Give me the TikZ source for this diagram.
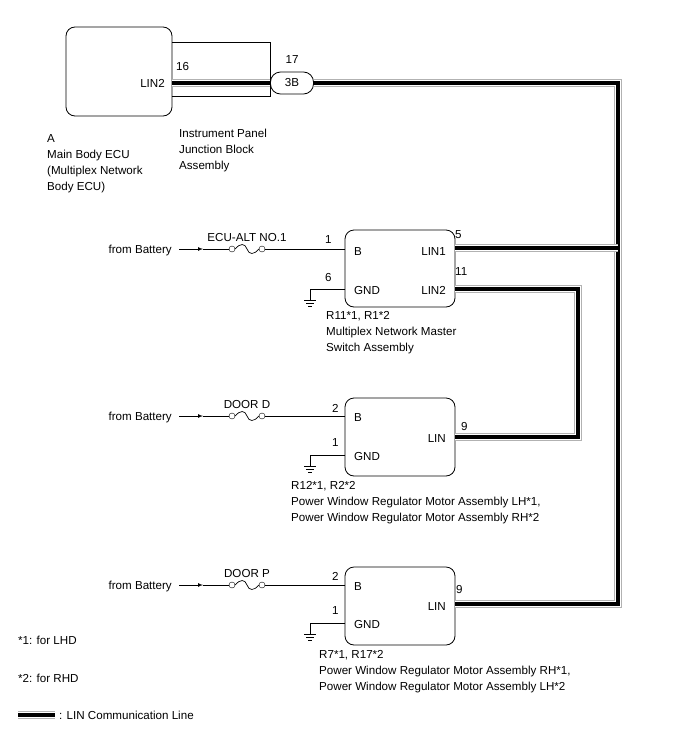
\documentclass[tikz,border=0pt]{standalone}
\usepackage{fontspec}
\setmainfont{Liberation Sans}
\begin{document}
\begin{tikzpicture}[x=1pt,y=-1pt,
  font=\fontsize{11.6}{16}\selectfont,
  box/.style={draw,thick,rounded corners=9pt},
  t/.style={inner sep=0pt,anchor=base west},
  tr/.style={inner sep=0pt,anchor=base east},
  wire/.style={line width=0.7pt},
  lin/.style={preaction={draw,line width=8pt,gray!60},preaction={draw,line width=6pt,white},line width=4.5pt,black},
  fc/.style={circle,draw,inner sep=0pt,minimum size=6pt,fill=white}]
\useasboundingbox (0,0) rectangle (688,755);
% main ECU and JB
\draw[box] (66,27) rectangle (172,116);
\node[tr] (lin2a) at (165,87) {LIN2};
\node[t] (n16) at (176,70) {16};
\draw[thick] (172,42) -- (270,42) -- (270,96) -- (172,96);
\node[align=left,anchor=north west,inner sep=0pt] (ipjb) at (179,129) {Instrument Panel\\Junction Block\\Assembly};
\node[t] (A) at (47,142) {A};
\node[anchor=north west,inner sep=0pt,align=left] (ecu) at (47,150) {Main Body ECU\\(Multiplex Network\\Body ECU)};
\node[draw,thick,rounded corners=10pt,minimum width=43pt,minimum height=22pt,inner sep=0pt] (j3b) at (292,83) {3B};
\node[t,anchor=base] (n17) at (292,63) {17};
\coordinate (p16) at (172,83);
\coordinate (c1) at (618,83);
\coordinate (c2) at (618,248);
\coordinate (c3) at (618,604);
\coordinate (d1) at (578,289);
\coordinate (d2) at (578,437);
% boxes
\draw[box] (345,230) rectangle (455,307);
\draw[box] (345,398) rectangle (455,476);
\draw[box] (345,567) rectangle (455,645);
% box1 texts
\node[t] (b1B) at (354,255) {B};
\node[t] (b1G) at (354,294) {GND};
\node[tr] (b1L1) at (446,255) {LIN1};
\node[tr] (b1L2) at (446,294) {LIN2};
\node[t] (n1a) at (325,243) {1};
\node[t] (n6) at (325,281) {6};
\node[t] (n5) at (455,238) {5};
\node[t] (n11) at (455,275) {11};
\node[anchor=north west,inner sep=0pt,align=left] (lb1) at (326,311) {R11*1, R1*2\\Multiplex Network Master\\Switch Assembly};
% box2 texts
\node[t] (b2B) at (354,421) {B};
\node[t] (b2G) at (354,460) {GND};
\node[tr] (b2L) at (446,442) {LIN};
\node[t] (n2b) at (332,412) {2};
\node[t] (n1b) at (332,446) {1};
\node[t] (n9b) at (461,430) {9};
\node[anchor=north west,inner sep=0pt,align=left] (lb2) at (291,481) {R12*1, R2*2\\Power Window Regulator Motor Assembly LH*1,\\Power Window Regulator Motor Assembly RH*2};
% box3 texts
\node[t] (b3B) at (354,590) {B};
\node[t] (b3G) at (354,628) {GND};
\node[tr] (b3L) at (446,610) {LIN};
\node[t] (n2c) at (332,580) {2};
\node[t] (n1c) at (332,614) {1};
\node[t] (n9c) at (456,593) {9};
\node[anchor=north west,inner sep=0pt,align=left] (lb3) at (319,650) {R7*1, R17*2\\Power Window Regulator Motor Assembly RH*1,\\Power Window Regulator Motor Assembly LH*2};
% LIN lines
\draw[lin] (p16) -- (j3b.west);
\draw[lin] (j3b.east) -- (c1) -- (c3) -- (455,604);
\draw[lin] (455,248) -- (c2);
\draw[lin] (455,289) -- (d1) -- (d2) -- (455,437);
% battery feeds
\foreach \y/\f/\nm in {249/ECU-ALT NO.1/a,416/DOOR D/b,585/DOOR P/c}{
  \node[tr] (fb\nm) at (172,\y+4) {from Battery};
  \node[fc] (f1\nm) at (232,\y) {};
  \node[fc] (f2\nm) at (262,\y) {};
  \node[t,anchor=base] (fl\nm) at (247,\y-8) {\f};
  \draw[wire,-latex] (179,\y) -- (203,\y);
  \draw[wire] (203,\y) -- (f1\nm);
  \draw[wire] (f1\nm.east) .. controls (240,\y-6) and (245,\y-6) .. (247,\y) .. controls (249,\y+6) and (254,\y+6) .. (f2\nm.west);
  \draw[wire] (f2\nm) -- (345,\y);
}
% grounds
\foreach \y in {289,455,623}{
  \coordinate (g\y) at (310,\y+11);
  \draw[wire] (345,\y) -- (310,\y) -- (g\y);
  \draw[wire] (304,\y+11) -- (316,\y+11) (306,\y+14) -- (314,\y+14) (308,\y+17) -- (312,\y+17);
}
% notes
\node[t] (note1) at (18,644) {*1: for LHD};
\node[t] (note2) at (18,682) {*2: for RHD};
\coordinate (lg1) at (18,715);
\coordinate (lg2) at (55,715);
\draw[lin] (lg1) -- (lg2);
\node[t] (lgt) at (59,719) {: LIN Communication Line};
\end{tikzpicture}
\end{document}
